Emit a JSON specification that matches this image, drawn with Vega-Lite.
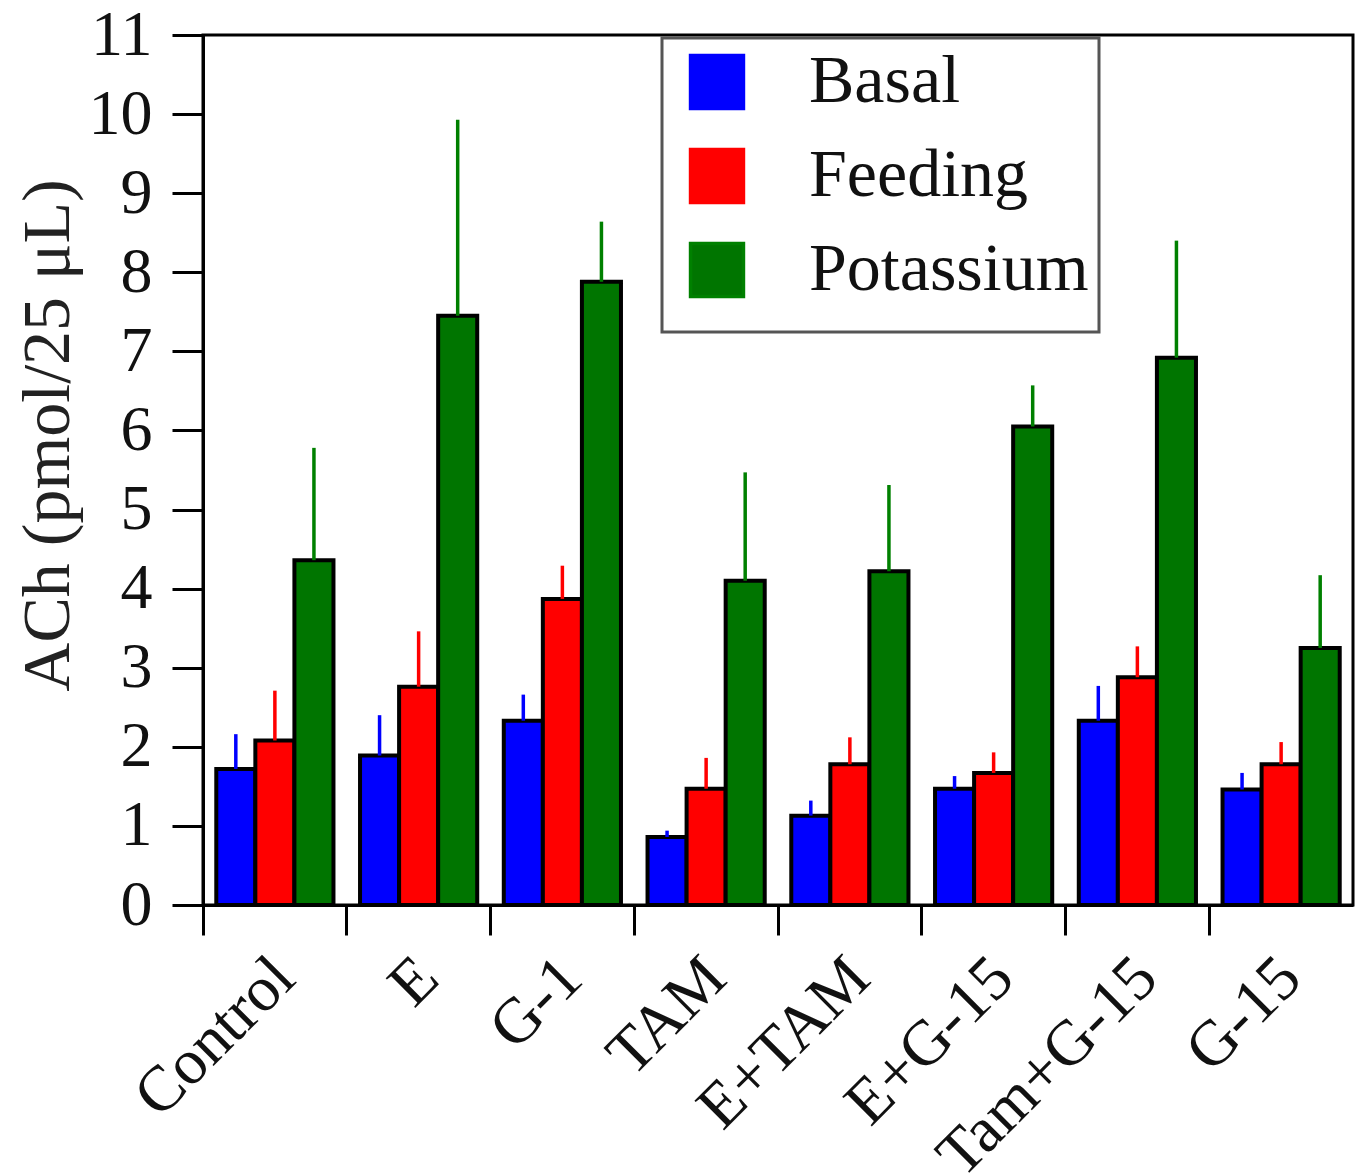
{
  "$schema": "https://vega.github.io/schema/vega-lite/v6.json",
  "autosize": {"type": "none"},
  "width": 1150,
  "height": 870,
  "padding": {"left": 203, "top": 35, "right": 9, "bottom": 268},
  "background": "white",
  "config": {
    "view": {"stroke": "black", "strokeWidth": 3},
    "font": "Liberation Serif"
  },
  "data": {
    "values": [
      {"group": "Control", "series": "Basal", "value": 1.72, "upper": 2.16},
      {"group": "Control", "series": "Feeding", "value": 2.08, "upper": 2.71},
      {"group": "Control", "series": "Potassium", "value": 4.36, "upper": 5.78},
      {"group": "E", "series": "Basal", "value": 1.89, "upper": 2.4},
      {"group": "E", "series": "Feeding", "value": 2.76, "upper": 3.46},
      {"group": "E", "series": "Potassium", "value": 7.45, "upper": 9.93},
      {"group": "G-1", "series": "Basal", "value": 2.33, "upper": 2.66},
      {"group": "G-1", "series": "Feeding", "value": 3.87, "upper": 4.29},
      {"group": "G-1", "series": "Potassium", "value": 7.88, "upper": 8.64},
      {"group": "TAM", "series": "Basal", "value": 0.86, "upper": 0.94},
      {"group": "TAM", "series": "Feeding", "value": 1.47, "upper": 1.86},
      {"group": "TAM", "series": "Potassium", "value": 4.1, "upper": 5.47},
      {"group": "E+TAM", "series": "Basal", "value": 1.13, "upper": 1.32},
      {"group": "E+TAM", "series": "Feeding", "value": 1.78, "upper": 2.12},
      {"group": "E+TAM", "series": "Potassium", "value": 4.22, "upper": 5.31},
      {"group": "E+G-15", "series": "Basal", "value": 1.47, "upper": 1.63},
      {"group": "E+G-15", "series": "Feeding", "value": 1.67, "upper": 1.93},
      {"group": "E+G-15", "series": "Potassium", "value": 6.05, "upper": 6.57},
      {"group": "Tam+G-15", "series": "Basal", "value": 2.33, "upper": 2.77},
      {"group": "Tam+G-15", "series": "Feeding", "value": 2.88, "upper": 3.27},
      {"group": "Tam+G-15", "series": "Potassium", "value": 6.92, "upper": 8.4},
      {"group": "G-15", "series": "Basal", "value": 1.46, "upper": 1.67},
      {"group": "G-15", "series": "Feeding", "value": 1.78, "upper": 2.06},
      {"group": "G-15", "series": "Potassium", "value": 3.25, "upper": 4.17}
    ]
  },
  "encoding": {
    "x": {
      "field": "group",
      "type": "nominal",
      "sort": ["Control", "E", "G-1", "TAM", "E+TAM", "E+G-15", "Tam+G-15", "G-15"],
      "scale": {"paddingInner": 0, "paddingOuter": 0},
      "axis": {
        "title": null,
        "bandPosition": 0,
        "domain": true,
        "domainColor": "black",
        "domainWidth": 3,
        "ticks": true,
        "tickColor": "black",
        "tickWidth": 3,
        "tickSize": 30,
        "labelAngle": -45,
        "labelAlign": "right",
        "labelBaseline": "top",
        "labelOffset": -13,
        "labelPadding": 10,
        "labelFont": "Liberation Serif",
        "labelFontSize": 64,
        "labelColor": "#111",
        "labelLimit": 600,
        "grid": false
      }
    },
    "xOffset": {
      "field": "series",
      "type": "nominal",
      "sort": ["Basal", "Feeding", "Potassium"],
      "scale": {"paddingInner": 0, "paddingOuter": 0.34}
    }
  },
  "layer": [
    {
      "mark": {"type": "bar", "stroke": "black", "strokeWidth": 4},
      "encoding": {
        "y": {
          "field": "value",
          "type": "quantitative",
          "scale": {"domain": [0, 11], "nice": false, "zero": true},
          "axis": {
            "title": "ACh (pmol/25 μL)",
            "titleFont": "Liberation Serif",
            "titleFontSize": 68,
            "titleFontWeight": "normal",
            "titleColor": "#222",
            "titleX": -155,
            "titleY": 400,
            "titleAngle": -90,
            "titleAlign": "center",
            "titleBaseline": "middle",
            "values": [0, 0.5, 1, 1.5, 2, 2.5, 3, 3.5, 4, 4.5, 5, 5.5, 6, 6.5, 7, 7.5, 8, 8.5, 9, 9.5, 10, 10.5, 11],
            "format": "d",
            "labelExpr": "datum.value % 1 === 0 ? datum.label : ''",
            "domain": true,
            "domainColor": "black",
            "domainWidth": 3,
            "tickColor": "black",
            "tickWidth": 3,
            "tickSize": {"condition": {"test": "datum.value % 1 !== 0", "value": 15}, "value": 31},
            "labelFont": "Liberation Serif",
            "labelFontSize": 64,
            "labelColor": "#111",
            "labelPadding": 20,
            "labelBaseline": "middle",
            "grid": false
          }
        },
        "fill": {
          "field": "series",
          "type": "nominal",
          "scale": {"domain": ["Basal", "Feeding", "Potassium"], "range": ["#0000ff", "#ff0000", "#007500"]},
          "legend": {
            "title": "\u00a0",
            "titleOrient": "bottom",
            "titleFontSize": 10,
            "titlePadding": 8,
            "orient": "none",
            "legendX": 459,
            "legendY": 3,
            "direction": "vertical",
            "fillColor": "white",
            "strokeColor": "#555",
            "padding": 10,
            "symbolOffset": 11,
            "symbolType": "square",
            "symbolSize": 2800,
            "symbolStrokeColor": "black",
            "symbolStrokeWidth": 3,
            "symbolOpacity": 1,
            "labelFont": "Liberation Serif",
            "labelFontSize": 68,
            "labelColor": "#111",
            "labelOffset": 58,
            "labelLimit": 500,
            "labelExpr": "datum.label + '\u2002'",
            "rowPadding": 26,
            "encode": {
              "legend": {"update": {"strokeWidth": {"value": 3}}},
              "symbols": {
                "update": {"stroke": {"value": "black"}, "strokeWidth": {"value": 3}}
              }
            }
          }
        }
      }
    },
    {
      "mark": {"type": "rule"},
      "encoding": {
        "y": {"field": "value", "type": "quantitative"},
        "y2": {"field": "upper"},
        "stroke": {
          "field": "series",
          "type": "nominal",
          "scale": {"domain": ["Basal", "Feeding", "Potassium"], "range": ["#0000ff", "#ff0000", "#008000"]},
          "legend": null
        },
        "strokeWidth": {
          "field": "series",
          "type": "nominal",
          "scale": {"domain": ["Basal", "Feeding", "Potassium"], "range": [3.5, 3.5, 5]},
          "legend": null
        }
      }
    }
  ]
}
